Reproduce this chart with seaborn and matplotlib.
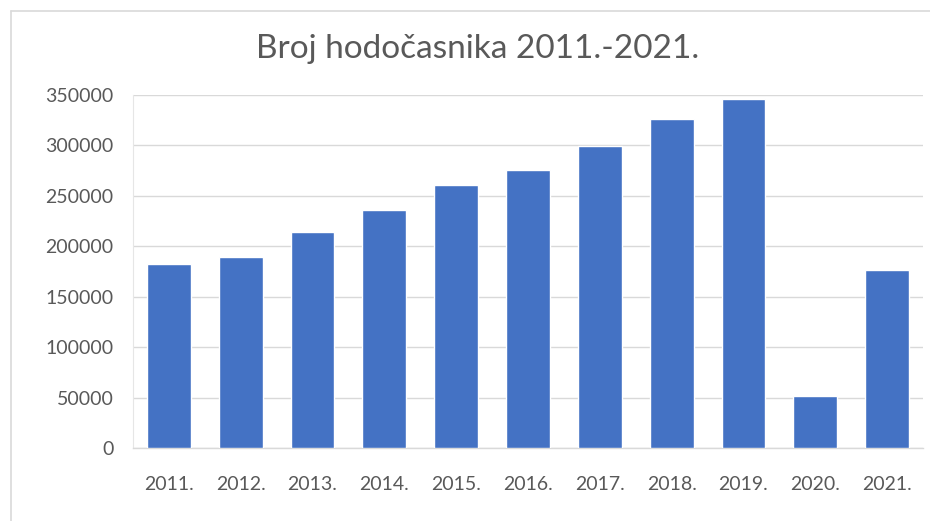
import matplotlib
matplotlib.use("Agg")
import matplotlib.pyplot as plt
import seaborn as sns
import pandas as pd

years = ["2011.", "2012.", "2013.", "2014.", "2015.", "2016.", "2017.", "2018.", "2019.", "2020.", "2021."]
pilgrims = [182500, 190000, 214000, 236000, 261000, 275500, 299000, 326500, 346500, 52300, 176500]
y_ticks = [0, 50000, 100000, 150000, 200000, 250000, 300000, 350000]
title = "Broj hodočasnika 2011.-2021."

df = pd.DataFrame({"year": years, "count": pilgrims})

sns.set_theme(style="white")
plt.rcParams["font.family"] = ["Lato", "DejaVu Sans"]

W, H = 930, 521
fig = plt.figure(figsize=(W / 100, H / 100), dpi=100)
ax = fig.add_axes([133 / W, 1 - 448.4 / H, (923 - 133) / W, (448.4 - 95) / H])

sns.barplot(data=df, x="year", y="count", color="#4472C4", width=0.61,
            saturation=1, ax=ax, zorder=3)

ax.set_ylim(0, 350000)
ax.set_yticks(y_ticks)
ax.set_yticklabels([str(v) for v in y_ticks])
ax.set_xlim(-0.5, len(years) - 0.5)
ax.yaxis.grid(True, color="#d9d9d9", linewidth=1.0, zorder=0)
ax.set_axisbelow(True)
for s in ["top", "right"]:
    ax.spines[s].set_visible(False)
ax.spines["left"].set_color("#e6e6e6")
ax.spines["left"].set_linewidth(0.8)
ax.spines["bottom"].set_color("#d9d9d9")
ax.spines["bottom"].set_linewidth(1.0)
ax.tick_params(axis="both", length=0, labelsize=14, colors="#595959")
ax.tick_params(axis="y", pad=14)
ax.tick_params(axis="x", pad=20)
ax.set_xlabel("")
ax.set_ylabel("")

fig.text(478 / W, 1 - 49 / H, title, ha="center", va="center",
         fontsize=24, color="#595959")

# chart frame (partially visible border)
fig.add_artist(plt.Line2D([11 / W, 1.0], [1 - 11 / H, 1 - 11 / H],
                          transform=fig.transFigure, color="#d9d9d9", linewidth=1.2))
fig.add_artist(plt.Line2D([11 / W, 11 / W], [0, 1 - 11 / H],
                          transform=fig.transFigure, color="#d9d9d9", linewidth=1.2))

fig.savefig("out.png", dpi=100)
